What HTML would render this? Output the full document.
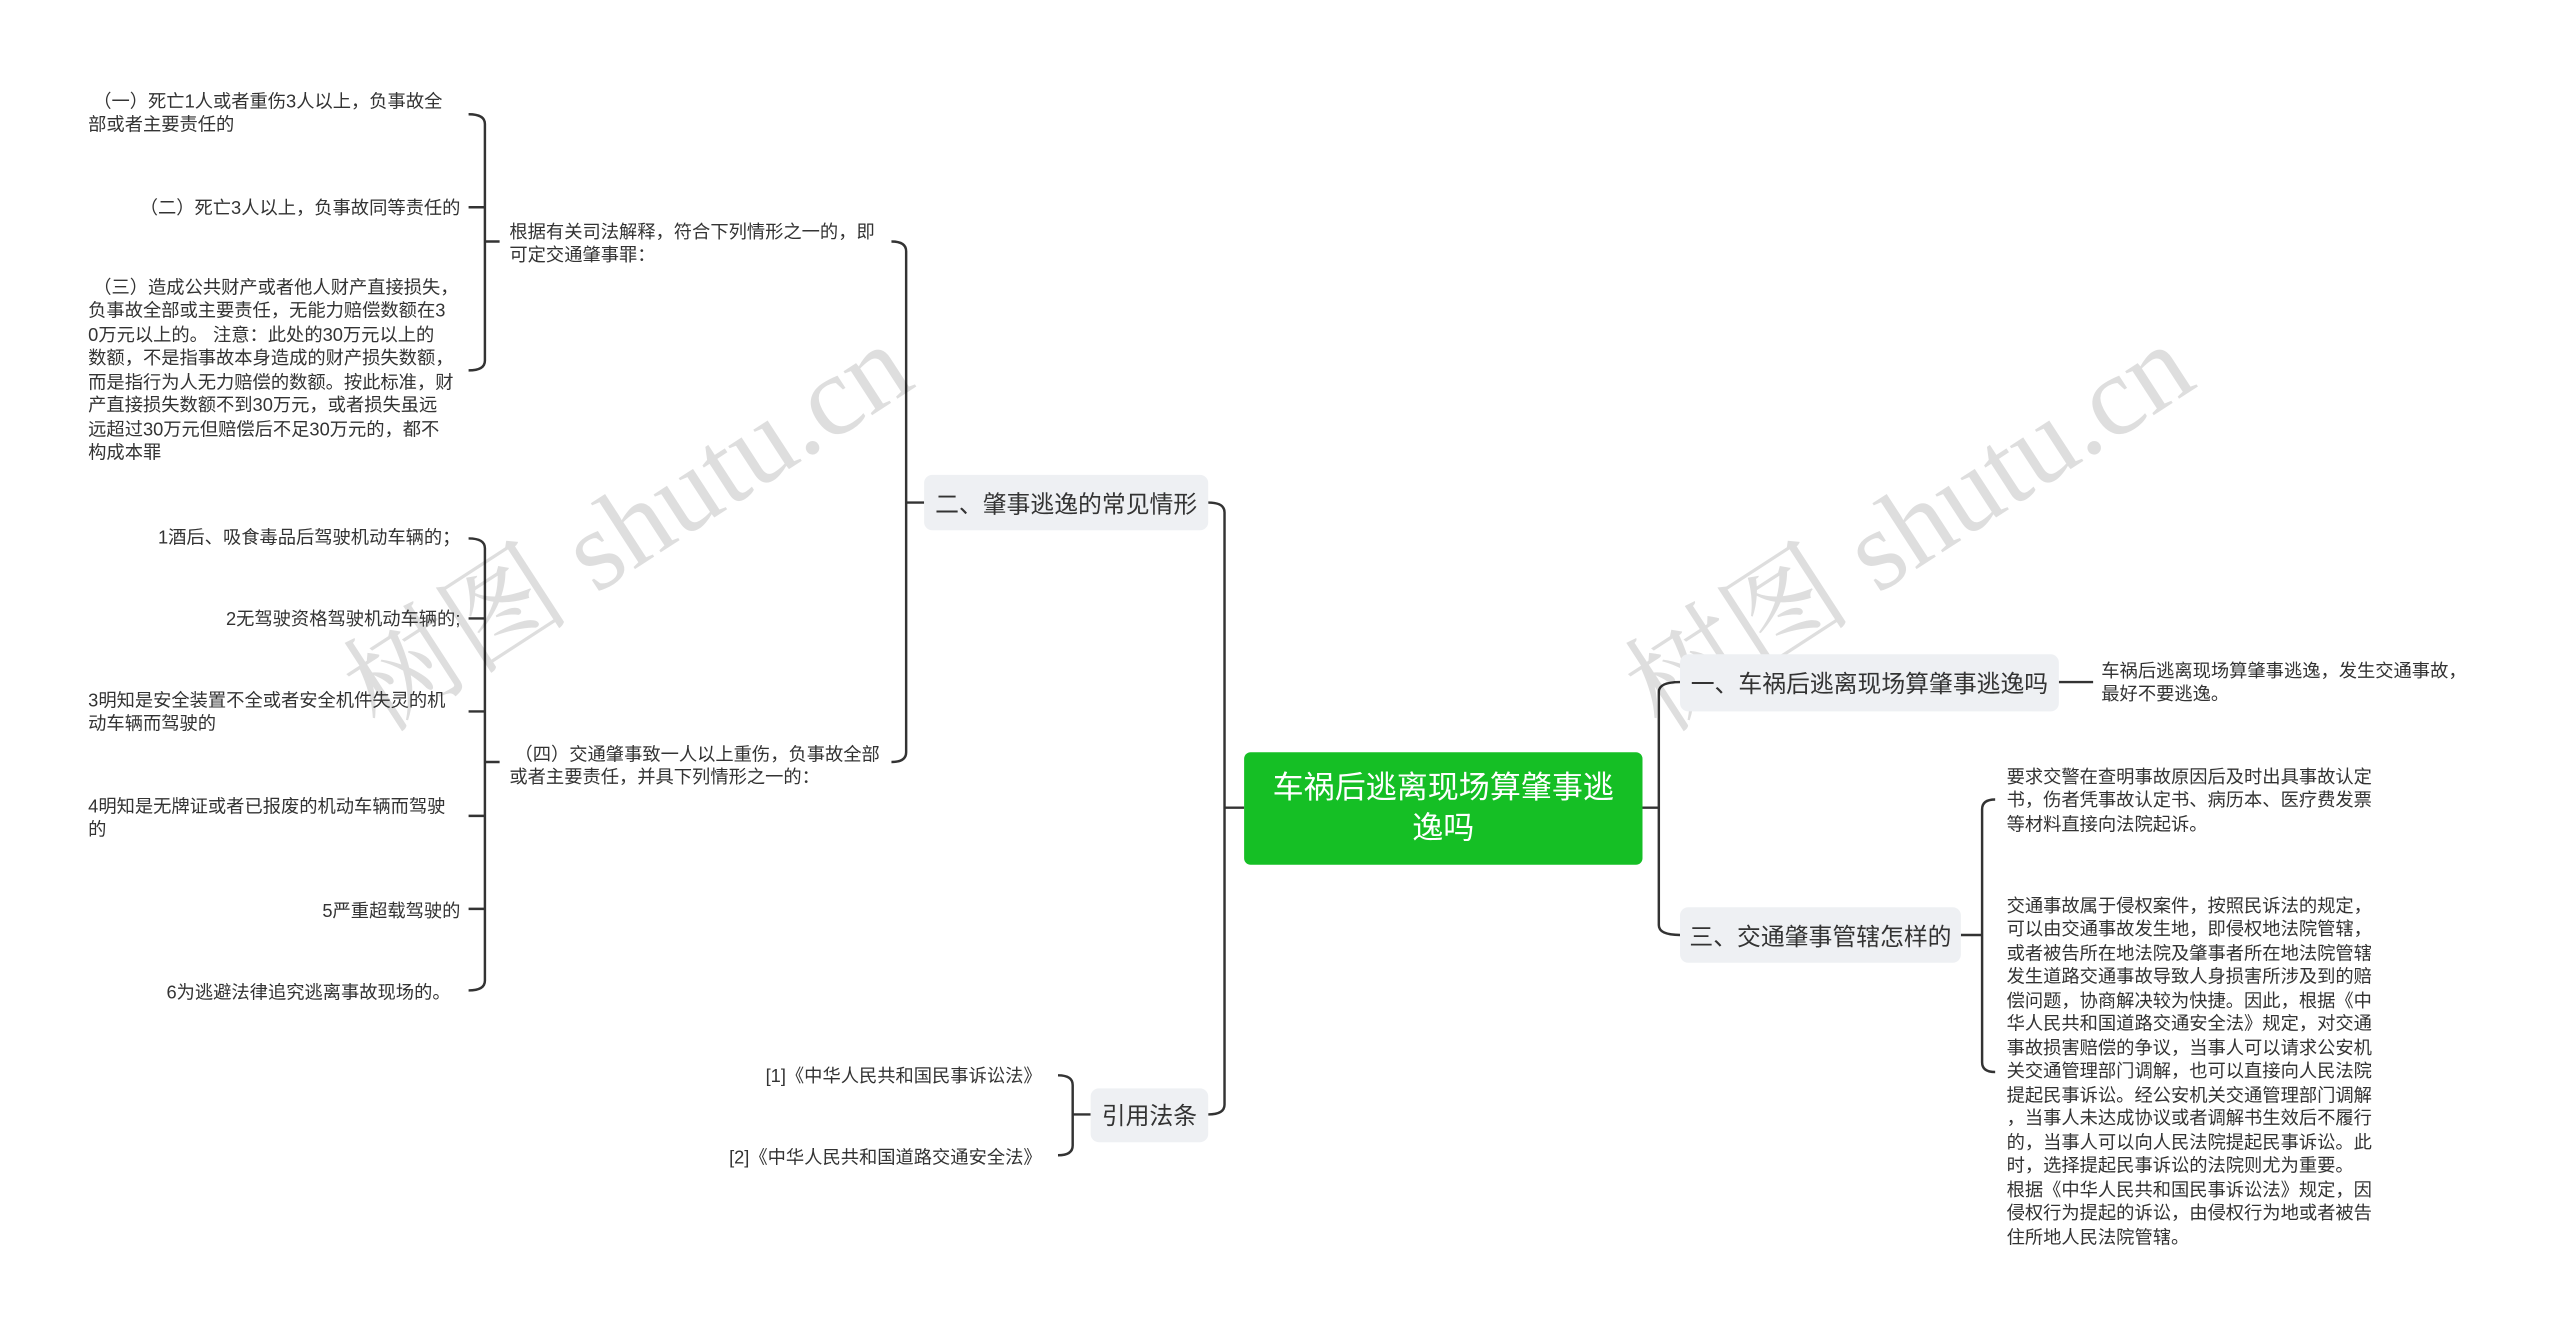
<!DOCTYPE html>
<html><head><meta charset="utf-8">
<style>
html,body{margin:0;padding:0;background:#fff;width:2560px;height:1338px;overflow:hidden}
#s{position:absolute;left:0;top:0;width:1568px;height:820px;transform-origin:0 0;transform:scale(1.6327,1.6317);font-family:"Liberation Sans","Noto Sans CJK SC",sans-serif;color:#333}
.t{position:absolute;font-size:11.2px;line-height:14.5px;white-space:nowrap;margin-top:1.5px}
.r{text-align:right}
.b{position:absolute;background:#eef0f3;border-radius:5px;font-size:14.6px;color:#333;display:flex;align-items:center;justify-content:center;white-space:nowrap}
.c{position:absolute;left:762px;top:461px;width:244px;height:69px;background:#15bf25;border-radius:4px;color:#fff;font-size:19px;line-height:25px;text-align:center;display:flex;align-items:center;justify-content:center}
.w{position:absolute;font-family:"Liberation Serif","Noto Serif CJK SC",serif;font-size:70px;color:rgba(0,0,0,0.13);white-space:nowrap;transform:rotate(-33deg);transform-origin:center}
svg{position:absolute;left:0;top:0}
</style></head><body><div id="s">
<svg width="1568" height="820" fill="none" stroke="#333" stroke-width="1.5">
<path d="M287,70 Q297,70 297,76 L297,221 Q297,227 287,227"/>
<path d="M287,127 L297,127 M297,148 L306,148"/>
<path d="M287,330 Q297,330 297,336 L297,601 Q297,607 287,607"/>
<path d="M287,379 L297,379 M287,436 L297,436 M287,500 L297,500 M287,557 L297,557 M297,467 L306,467"/>
<path d="M546,148 Q555,148 555,154 L555,461 Q555,467 546,467"/>
<path d="M555,308 L566,308"/>
<path d="M740,308 Q750,308 750,314 L750,677 Q750,683 740,683"/>
<path d="M750,495 L762,495"/>
<path d="M648,659 Q657,659 657,665 L657,702 Q657,708 648,708"/>
<path d="M657,683 L668,683"/>
<path d="M1006,495 L1016,495"/>
<path d="M1029,418 Q1016,418 1016,424 L1016,567 Q1016,573 1029,573"/>
<path d="M1261,418 L1282,418"/>
<path d="M1201,573 L1214,573"/>
<path d="M1222,490 Q1214,490 1214,496 L1214,651 Q1214,657 1222,657"/>
</svg>
<div class="w" style="left:185px;top:268px">树图 shutu.cn</div>
<div class="w" style="left:970px;top:268px">树图 shutu.cn</div>

<div class="t" style="left:54px;top:54px">&nbsp;（一）死亡1人或者重伤3人以上，负事故全<br>部或者主要责任的</div>
<div class="t r" style="left:54px;top:119px;width:228px">（二）死亡3人以上，负事故同等责任的</div>
<div class="t" style="left:54px;top:168px">&nbsp;（三）造成公共财产或者他人财产直接损失，<br>负事故全部或主要责任，无能力赔偿数额在3<br>0万元以上的。 注意：此处的30万元以上的<br>数额，不是指事故本身造成的财产损失数额，<br>而是指行为人无力赔偿的数额。按此标准，财<br>产直接损失数额不到30万元，或者损失虽远<br>远超过30万元但赔偿后不足30万元的，都不<br>构成本罪</div>
<div class="t" style="left:312px;top:134px">根据有关司法解释，符合下列情形之一的，即<br>可定交通肇事罪：</div>
<div class="t r" style="left:54px;top:321px;width:228px">1酒后、吸食毒品后驾驶机动车辆的；</div>
<div class="t r" style="left:54px;top:371px;width:228px">2无驾驶资格驾驶机动车辆的;</div>
<div class="t" style="left:54px;top:421px">3明知是安全装置不全或者安全机件失灵的机<br>动车辆而驾驶的</div>
<div class="t" style="left:54px;top:486px">4明知是无牌证或者已报废的机动车辆而驾驶<br>的</div>
<div class="t r" style="left:54px;top:550px;width:228px">5严重超载驾驶的</div>
<div class="t r" style="left:54px;top:600px;width:222px">6为逃避法律追究逃离事故现场的。</div>
<div class="t" style="left:312px;top:454px">&nbsp;（四）交通肇事致一人以上重伤，负事故全部<br>或者主要责任，并具下列情形之一的：</div>
<div class="t r" style="left:400px;top:651px;width:238px">[1]《中华人民共和国民事诉讼法》</div>
<div class="t r" style="left:400px;top:701px;width:238px">[2]《中华人民共和国道路交通安全法》</div>

<div class="b" style="left:566px;top:291px;width:174px;height:34px">二、肇事逃逸的常见情形</div>
<div class="b" style="left:668px;top:667px;width:72px;height:33px">引用法条</div>
<div class="c">车祸后逃离现场算肇事逃<br>逸吗</div>
<div class="b" style="left:1029px;top:401px;width:232px;height:35px">一、车祸后逃离现场算肇事逃逸吗</div>
<div class="b" style="left:1029px;top:556px;width:172px;height:34px">三、交通肇事管辖怎样的</div>

<div class="t" style="left:1287px;top:403px">车祸后逃离现场算肇事逃逸，发生交通事故，<br>最好不要逃逸。</div>
<div class="t" style="left:1229px;top:468px">要求交警在查明事故原因后及时出具事故认定<br>书，伤者凭事故认定书、病历本、医疗费发票<br>等材料直接向法院起诉。</div>
<div class="t" style="left:1229px;top:547px">交通事故属于侵权案件，按照民诉法的规定，<br>可以由交通事故发生地，即侵权地法院管辖，<br>或者被告所在地法院及肇事者所在地法院管辖<br>发生道路交通事故导致人身损害所涉及到的赔<br>偿问题，协商解决较为快捷。因此，根据《中<br>华人民共和国道路交通安全法》规定，对交通<br>事故损害赔偿的争议，当事人可以请求公安机<br>关交通管理部门调解，也可以直接向人民法院<br>提起民事诉讼。经公安机关交通管理部门调解<br>，当事人未达成协议或者调解书生效后不履行<br>的，当事人可以向人民法院提起民事诉讼。此<br>时，选择提起民事诉讼的法院则尤为重要。<br>根据《中华人民共和国民事诉讼法》规定，因<br>侵权行为提起的诉讼，由侵权行为地或者被告<br>住所地人民法院管辖。</div>
</div></body></html>
